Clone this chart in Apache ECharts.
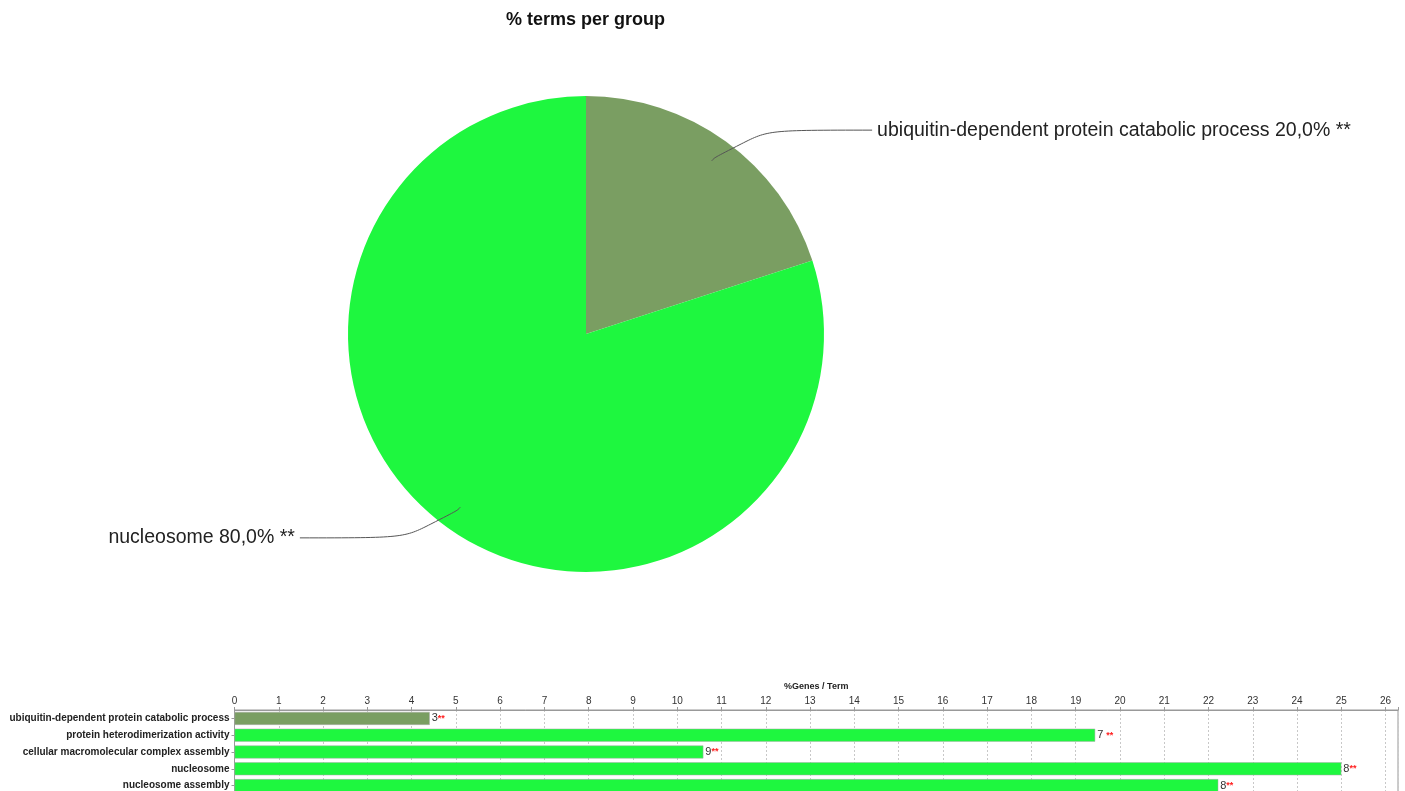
<!DOCTYPE html>
<html>
<head>
<meta charset="utf-8">
<script src="https://cdn.jsdelivr.net/npm/echarts@6/dist/echarts.min.js"></script>
<style>
  html, body { margin: 0; padding: 0; background: #fff; }
  #main { width: 1405px; height: 791px; }
</style>
</head>
<body>
<div id="main"></div>
<script>
// pie: share of terms per group
var groupNames = ['ubiquitin-dependent protein catabolic process', 'nucleosome'];
var groupShares = [20.0, 80.0];
var groupColors = ['#7a9e62', '#1ef73f'];

// bars: %genes per term
var terms = [
    'ubiquitin-dependent protein catabolic process',
    'protein heterodimerization activity',
    'cellular macromolecular complex assembly',
    'nucleosome',
    'nucleosome assembly'
];
var genePercent = [4.41, 19.44, 10.59, 25.0, 22.22];
var geneCounts = ['3', '7 ', '9', '8', '8'];
var termGroup = [0, 1, 1, 1, 1];

var myChart = echarts.init(document.getElementById('main'));

var pieData = groupNames.map(function (n, i) {
    return { value: groupShares[i], name: n, itemStyle: { color: groupColors[i] } };
});

// same slices, invisible, only used to start the label lines inside the pie
var pieLabelData = groupNames.map(function (n, i) {
    return { value: groupShares[i], name: n };
});

var barData = genePercent.map(function (v, i) {
    return { value: v, itemStyle: { color: groupColors[termGroup[i]] } };
});

var option = {
    animation: false,
    title: {
        text: '% terms per group',
        left: 501,
        top: 6,
        textStyle: { fontFamily: 'Liberation Sans', fontSize: 18, fontWeight: 'bold', color: '#111' }
    },
    grid: {
        left: 234.5,
        right: 7,
        top: 710,
        height: 84,
        outerBoundsMode: 'none',
        show: true,
        borderColor: '#999',
        borderWidth: 1
    },
    xAxis: {
        type: 'value',
        position: 'top',
        min: 0,
        max: 26.28,
        interval: 1,
        name: '%Genes / Term',
        nameLocation: 'middle',
        nameGap: 19,
        nameTextStyle: { fontFamily: 'Liberation Sans', fontSize: 9, fontWeight: 'bold', color: '#222' },
        axisLine: { show: true, lineStyle: { color: '#999' } },
        axisTick: { show: true, length: 3, lineStyle: { color: '#999' } },
        axisLabel: {
            margin: 4,
            fontFamily: 'Liberation Sans',
            fontSize: 10,
            color: '#333',
            formatter: function (v) { return v % 1 === 0 ? String(v) : ''; }
        },
        splitLine: { show: true, lineStyle: { color: '#c8c8c8', type: [2, 2] } }
    },
    yAxis: {
        type: 'category',
        inverse: true,
        data: terms,
        axisLine: { show: true, lineStyle: { color: '#999' } },
        axisTick: { show: true, length: 3, alignWithLabel: true, lineStyle: { color: '#999' } },
        axisLabel: {
            margin: 5,
            fontFamily: 'Liberation Sans',
            fontSize: 10,
            fontWeight: 'bold',
            color: '#222'
        }
    },
    series: [
        {
            type: 'pie',
            center: [586, 334],
            radius: 238,
            startAngle: 90,
            clockwise: true,
            data: pieData,
            label: { show: false },
            labelLine: { show: false },
            emphasis: { disabled: true },
            silent: true
        },
        {
            type: 'pie',
            center: [586, 334],
            radius: 214,
            startAngle: 90,
            clockwise: true,
            data: pieLabelData,
            z: 3,
            itemStyle: { color: 'rgba(0,0,0,0)' },
            label: {
                fontFamily: 'Liberation Sans',
                fontSize: 19.5,
                color: '#222',
                formatter: function (p) {
                    return p.name + ' ' + p.value.toFixed(1).replace('.', ',') + '% **';
                }
            },
            labelLine: {
                length: 38,
                length2: 138,
                smooth: 0.9,
                lineStyle: { color: '#555', width: 1 }
            },
            emphasis: { disabled: true },
            silent: true
        },
        {
            type: 'bar',
            data: barData,
            barWidth: 13,
            label: {
                show: true,
                position: 'right',
                distance: 2,
                formatter: function (p) {
                    return '{n|' + geneCounts[p.dataIndex] + '}{s|**}';
                },
                rich: {
                    n: { fontFamily: 'Liberation Sans', fontSize: 11, color: '#333' },
                    s: { fontFamily: 'Liberation Sans', fontSize: 9, fontWeight: 'bold', color: '#ff2020' }
                }
            },
            itemStyle: { borderColor: '#aaa', borderWidth: 0.5 }
        }
    ]
};

myChart.setOption(option);
</script>
</body>
</html>
